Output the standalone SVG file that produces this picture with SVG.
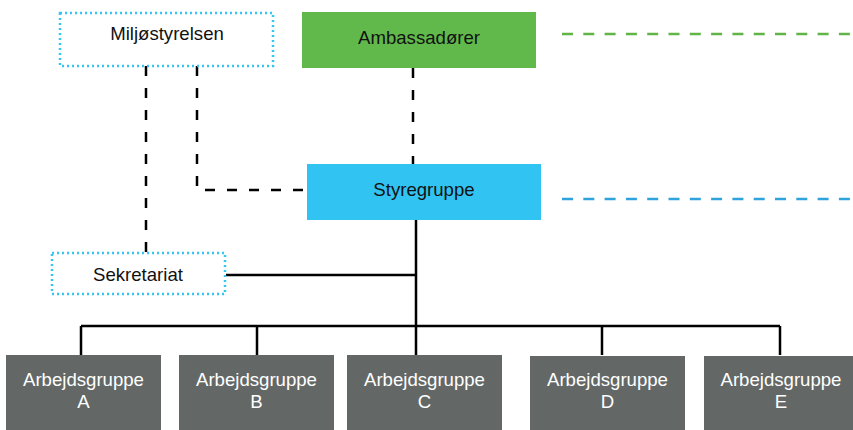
<svg xmlns="http://www.w3.org/2000/svg" width="853" height="430" viewBox="0 0 853 430">
<style>
text{font-family:"Liberation Sans",Arial,sans-serif;font-size:18.6px;text-anchor:middle;fill:#111}
.dot{fill:#fff;stroke:#33c6f2;stroke-width:2.5;stroke-dasharray:2 3}
.wg{fill:#636867}
.wg text{fill:#fff}
.solid{fill:none;stroke:#000;stroke-width:2.5}
.dash{fill:none;stroke:#000;stroke-width:2.5;stroke-dasharray:10 12}
</style>
<rect width="853" height="430" fill="#fff"/>
<g id="connectors">
<path class="dash" d="M413 68V164"/>
<path class="dash" d="M146 66V253"/>
<path class="dash" d="M197 66V190H307"/>
<path class="solid" d="M416 220V326M226 275H416M81 326H780M81 326V355M257 326V355M416 326V355M602 326V355M780 326V355"/>
<path d="M562 34H853" fill="none" stroke="#62b446" stroke-width="2.5" stroke-dasharray="11 10.3"/>
<path d="M562 199H853" fill="none" stroke="#2fa3dc" stroke-width="2.5" stroke-dasharray="11 10.3"/>
</g>
<g id="miljostyrelsen"><rect class="dot" x="60" y="13" width="213" height="53"/><text x="167" y="40">Miljøstyrelsen</text></g>
<g id="ambassadorer"><rect x="302" y="12" width="234" height="56" fill="#62b94b"/><text x="419" y="44">Ambassadører</text></g>
<g id="styregruppe"><rect x="307" y="164" width="234" height="56" fill="#31c4f3"/><text x="424" y="196">Styregruppe</text></g>
<g id="sekretariat"><rect class="dot" x="52" y="253" width="173" height="41"/><text x="138" y="281">Sekretariat</text></g>
<g id="arbejdsgruppe-a" class="wg"><rect x="6" y="355" width="155" height="75"/><text x="83.5" y="386">Arbejdsgruppe</text><text x="83.5" y="408">A</text></g>
<g id="arbejdsgruppe-b" class="wg"><rect x="179" y="355" width="155" height="75"/><text x="256.5" y="386">Arbejdsgruppe</text><text x="256.5" y="408">B</text></g>
<g id="arbejdsgruppe-c" class="wg"><rect x="347" y="355" width="155" height="75"/><text x="424.5" y="386">Arbejdsgruppe</text><text x="424.5" y="408">C</text></g>
<g id="arbejdsgruppe-d" class="wg"><rect x="530" y="356" width="155" height="74"/><text x="607.5" y="386">Arbejdsgruppe</text><text x="607.5" y="408">D</text></g>
<g id="arbejdsgruppe-e" class="wg"><rect x="704" y="356" width="155" height="74"/><text x="781" y="386">Arbejdsgruppe</text><text x="781" y="408">E</text></g>
</svg>
